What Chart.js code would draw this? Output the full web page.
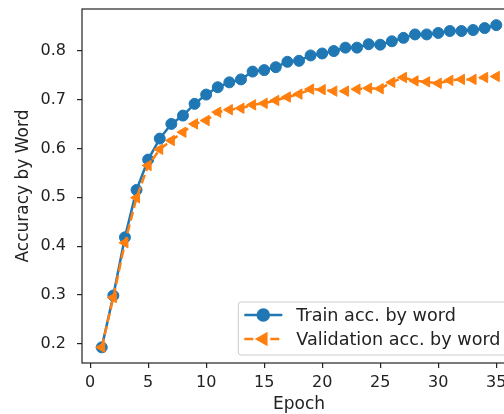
<!DOCTYPE html>
<html>
<head>
<meta charset="utf-8">
<script src="https://cdn.jsdelivr.net/npm/chart.js@4.4.0/dist/chart.umd.min.js"></script>
<style>
  html, body { margin: 0; padding: 0; background: #fff; overflow: hidden; }
  #wrap { width: 524px; height: 414px; position: relative; }
</style>
</head>
<body>
<div id="wrap"><canvas id="acc" width="524" height="414"></canvas></div>
<script>
// values
var epochs = [1, 2, 3, 4, 5, 6, 7, 8, 9, 10, 11, 12, 13, 14, 15, 16, 17, 18, 19, 20,
              21, 22, 23, 24, 25, 26, 27, 28, 29, 30, 31, 32, 33, 34, 35]
var trainAcc = [0.193, 0.299, 0.418, 0.515, 0.577, 0.620, 0.650, 0.667, 0.691, 0.710,
                0.725, 0.735, 0.741, 0.757, 0.760, 0.766, 0.777, 0.779, 0.790, 0.794,
                0.799, 0.806, 0.806, 0.813, 0.812, 0.819, 0.826, 0.833, 0.833, 0.836,
                0.840, 0.840, 0.842, 0.846, 0.852]
var valAcc = [0.193, 0.295, 0.407, 0.499, 0.565, 0.598, 0.616, 0.633, 0.650, 0.657,
              0.674, 0.679, 0.682, 0.689, 0.692, 0.698, 0.705, 0.711, 0.721, 0.720,
              0.717, 0.717, 0.721, 0.723, 0.722, 0.735, 0.745, 0.738, 0.736, 0.733,
              0.739, 0.741, 0.741, 0.745, 0.747]
var seriesNames = ['Train acc. by word', 'Validation acc. by word']
var xTicks = [0, 5, 10, 15, 20, 25, 30, 35]
var yTicks = [0.2, 0.3, 0.4, 0.5, 0.6, 0.7, 0.8]

var FONT = 'DejaVu Sans'
var blue = '#1f77b4'
var orange = '#ff7f0e'

function pts(ys) {
    return epochs.map(function (e, i) { return {x: e, y: ys[i]} })
}

// frame on all four sides + matplotlib style legend in the lower right
var frameAndLegend = {
    id: 'frameAndLegend',
    afterDatasetsDraw: function (chart) {
        var ctx = chart.ctx
        var a = chart.chartArea
        ctx.save()
        ctx.strokeStyle = '#222'
        ctx.lineWidth = 1.2
        ctx.strokeRect(a.left, a.top, a.right - a.left, a.bottom - a.top)

        ctx.font = '17.6px "' + FONT + '"'
        var ds = chart.data.datasets
        var maxW = 0
        ds.forEach(function (d) { maxW = Math.max(maxW, ctx.measureText(d.label).width) })
        var boxRight = a.right - 8.5
        var boxBottom = a.bottom - 8
        var boxTop = boxBottom - 53
        var boxLeft = boxRight - maxW - 65
        ctx.fillStyle = 'rgba(255,255,255,0.8)'
        ctx.strokeStyle = '#cccccc'
        ctx.lineWidth = 1
        ctx.beginPath()
        ctx.roundRect(boxLeft, boxTop, boxRight - boxLeft, boxBottom - boxTop, 3)
        ctx.fill()
        ctx.stroke()

        ds.forEach(function (d, i) {
            var y = boxTop + 13 + i * 24
            var x0 = boxLeft + 6
            var x1 = boxLeft + 44
            ctx.strokeStyle = d.borderColor
            ctx.lineWidth = d.borderWidth
            ctx.setLineDash(d.borderDash || [])
            ctx.beginPath()
            ctx.moveTo(x0, y)
            ctx.lineTo(x1, y)
            ctx.stroke()
            ctx.setLineDash([])
            ctx.fillStyle = d.backgroundColor
            ctx.strokeStyle = d.borderColor
            Chart.helpers.drawPoint(ctx, {
                pointStyle: d.pointStyle,
                rotation: d.pointRotation || 0,
                radius: d.pointRadius,
                borderWidth: 1
            }, (x0 + x1) / 2, y)
            ctx.fillStyle = '#222'
            ctx.textBaseline = 'middle'
            ctx.textAlign = 'left'
            ctx.fillText(d.label, boxLeft + 58, y + 1)
        })
        ctx.restore()
    }
}

var ctx = document.getElementById('acc').getContext('2d')
var myChart = new Chart(ctx, {
    type: 'line',
    data: {
        datasets: [{
            label: seriesNames[0],
            data: pts(trainAcc),
            borderColor: blue,
            backgroundColor: blue,
            borderWidth: 2.5,
            pointStyle: 'circle',
            pointRadius: 5.5,
            pointBorderWidth: 1,
            order: 1
        }, {
            label: seriesNames[1],
            data: pts(valAcc),
            borderColor: orange,
            backgroundColor: orange,
            borderWidth: 2.5,
            borderDash: [9, 4],
            pointStyle: 'triangle',
            pointRotation: -90,
            pointRadius: 6,
            pointBorderWidth: 1,
            order: 0
        }]
    },
    options: {
        responsive: false,
        animation: false,
        devicePixelRatio: 1,
        layout: {padding: {left: 0, right: 8, top: 9, bottom: 0}},
        plugins: {legend: {display: false}, tooltip: {enabled: false}},
        scales: {
            x: {
                type: 'linear',
                min: -0.7,
                max: 36.7,
                afterBuildTicks: function (s) { s.ticks = xTicks.map(function (v) { return {value: v} }) },
                afterFit: function (s) { s.height = 51; s.paddingLeft = 0; s.paddingRight = 0 },
                grid: {drawOnChartArea: false, tickLength: 5, color: '#222', lineWidth: 1.2},
                border: {display: false},
                ticks: {color: '#222', padding: 5, font: {family: FONT, size: 16}},
                title: {display: true, text: 'Epoch', color: '#222',
                        font: {family: FONT, size: 17}, padding: {top: 0, bottom: -1}}
            },
            y: {
                min: 0.161,
                max: 0.885,
                afterBuildTicks: function (s) { s.ticks = yTicks.map(function (v) { return {value: v} }) },
                afterFit: function (s) { s.width = 82; s.paddingTop = 0; s.paddingBottom = 0 },
                grid: {drawOnChartArea: false, tickLength: 5, color: '#222', lineWidth: 1.2},
                border: {display: false},
                ticks: {color: '#222', padding: 11, font: {family: FONT, size: 16},
                        callback: function (v) { return v.toFixed(1) }},
                title: {display: true, text: 'Accuracy by Word', color: '#222',
                        font: {family: FONT, size: 17}, padding: {top: 13, bottom: 0}}
            }
        }
    },
    plugins: [frameAndLegend]
});
</script>
</body>
</html>
